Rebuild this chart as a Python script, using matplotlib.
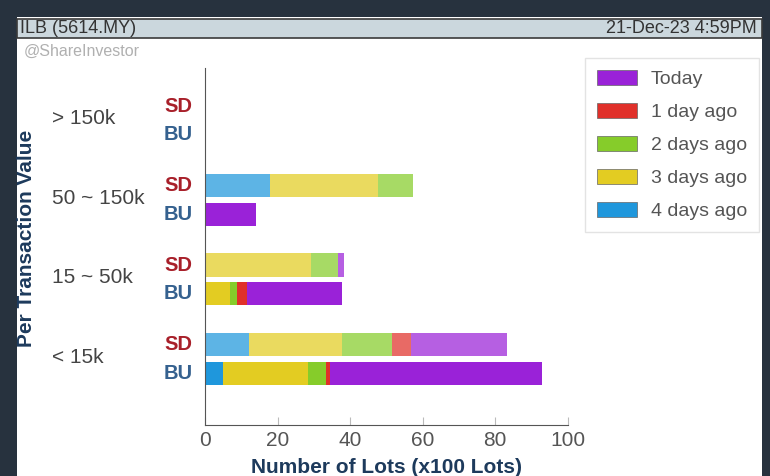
import numpy as np
import matplotlib.pyplot as plt
from matplotlib.patches import Rectangle, Patch

# ---- data (x100 lots) ----
categories = ['< 15k', '15 ~ 50k', '50 ~ 150k', '> 150k']
series = ['4 days ago', '3 days ago', '2 days ago', '1 day ago', 'Today']
colors = ['#1f97dc', '#e3cc22', '#86cc2a', '#e0302a', '#9a22d8']

# segment lengths per category, one list per series (same order as `series`)
sd_vals = {
    '4 days ago': [12.2, 0.0, 17.9, 0.0],
    '3 days ago': [25.5, 29.2, 29.7, 0.0],
    '2 days ago': [14.0, 7.6, 9.7, 0.0],
    '1 day ago':  [5.0, 0.0, 0.0, 0.0],
    'Today':      [26.5, 1.6, 0.0, 0.0],
}
bu_vals = {
    '4 days ago': [5.1, 0.0, 0.0, 0.0],
    '3 days ago': [23.4, 6.9, 0.0, 0.0],
    '2 days ago': [4.8, 2.0, 0.0, 0.0],
    '1 day ago':  [1.2, 2.8, 0.0, 0.0],
    'Today':      [58.4, 26.0, 14.1, 0.0],
}
xticks = [0, 20, 40, 60, 80, 100]

W, H = 770, 476
plt.rcParams['font.family'] = ['Liberation Sans', 'DejaVu Sans']
fig = plt.figure(figsize=(W / 100, H / 100), dpi=100, facecolor='#27323e')

# white panel and header bar
fig.patches.append(Rectangle((17 / W, 0), (762 - 17) / W, 1 - 17 / H,
                             transform=fig.transFigure, facecolor='white',
                             edgecolor='none', zorder=-2))
fig.patches.append(Rectangle((17 / W, 1 - 38 / H), (762 - 17) / W, 19 / H,
                             transform=fig.transFigure, facecolor='#cbd7dd',
                             edgecolor='#3a3a3a', lw=1.2, zorder=-1))
fig.text(20 / W, 1 - 28.5 / H, 'ILB (5614.MY)', fontsize=13, color='#333333',
         va='center', ha='left')
fig.text(757 / W, 1 - 28.5 / H, '21-Dec-23 4:59PM', fontsize=13, color='#333333',
         va='center', ha='right')
fig.text(24 / W, 1 - 51 / H, '@ShareInvestor', fontsize=11.5, color='#b0b0b0',
         va='center', ha='left')

ax = fig.add_axes([205 / W, 1 - 425 / H, 362.5 / W, (425 - 68) / H])
ax.set_facecolor('none')

y = np.arange(len(categories))
off = 0.182
h = 0.29
left_sd = np.zeros(len(categories))
left_bu = np.zeros(len(categories))
for s, c in zip(series, colors):
    v = np.array(sd_vals[s])
    ax.barh(y + off, v, left=left_sd, height=h, color=c, alpha=0.72, lw=0)
    left_sd += v
    v = np.array(bu_vals[s])
    ax.barh(y - off, v, left=left_bu, height=h, color=c, lw=0)
    left_bu += v

ax.set_xlim(0, 100)
ax.set_ylim(-0.83, 3.66)
ax.set_xticks(xticks)
ax.set_xticklabels([str(t) for t in xticks], fontsize=15, color='#555555')
ax.tick_params(axis='x', direction='in', length=6, color='#bbbbbb', pad=4)
ax.set_yticks([])
for sp in ['top', 'right']:
    ax.spines[sp].set_visible(False)
ax.spines['left'].set_color('#555555')
ax.spines['bottom'].set_color('#555555')
ax.set_xlabel('Number of Lots (x100 Lots)', fontsize=15, fontweight='bold',
              color='#1d3a5c', labelpad=6)

# category and SD/BU labels
for i, cat in enumerate(categories):
    ax.text(-153 / 3.625, i + 0.02, cat, fontsize=15, color='#444444',
            ha='left', va='center')
    ax.text(-7.4, i + off, 'SD', fontsize=14.5, fontweight='bold',
            color='#a8202a', ha='center', va='center')
    ax.text(-7.4, i - off, 'BU', fontsize=14.5, fontweight='bold',
            color='#35618f', ha='center', va='center')

fig.text(27 / W, 1 - 238 / H, 'Per Transaction Value', rotation=90,
         fontsize=15, fontweight='bold', color='#1d3a5c', ha='center', va='center')

handles = [Patch(facecolor=c, edgecolor='#666666', lw=0.5, label=s)
           for s, c in zip(series[::-1], colors[::-1])]
leg = fig.legend(handles=handles, loc='upper left',
                 bbox_to_anchor=(585 / W, 1 - 58 / H), fontsize=14,
                 frameon=True, fancybox=False, edgecolor='#dddddd',
                 handlelength=2.06, handleheight=0.82, labelspacing=0.75,
                 borderpad=0.62, handletextpad=0.72, borderaxespad=0)
for t in leg.get_texts():
    t.set_color('#555555')

fig.savefig('out.png', dpi=100, facecolor=fig.get_facecolor())
